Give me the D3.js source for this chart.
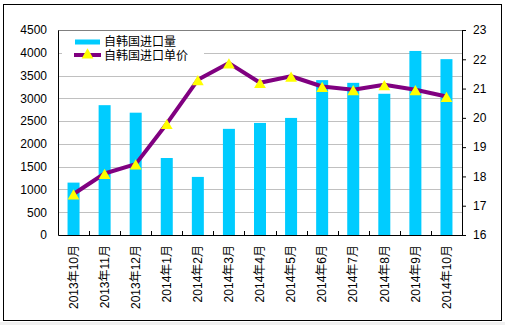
<!DOCTYPE html>
<html>
<head>
<meta charset="utf-8">
<script src="https://cdn.jsdelivr.net/npm/d3@7"></script>
<style>
  html, body { margin:0; padding:0; background:#fff; }
  svg { display:block; }
  text { font-family: "Liberation Sans", "Noto Sans CJK SC", sans-serif; }
</style>
</head>
<body>
<div id="chart"></div>
<script>
// months, import volume (bars, left axis), unit price (line, right axis)
const months = ['2013年10月','2013年11月','2013年12月','2014年1月','2014年2月','2014年3月',
  '2014年4月','2014年5月','2014年6月','2014年7月','2014年8月','2014年9月','2014年10月'];
const volume = [1150, 2850, 2685, 1690, 1275, 2330, 2460, 2570, 3400, 3340, 3100, 4040, 3860];
const price = [17.4, 18.1, 18.42, 19.8, 21.3, 21.87, 21.2, 21.42, 21.07, 20.96, 21.13, 20.96, 20.73];
const leftTicks = d3.range(0, 4501, 500);
const rightTicks = d3.range(16, 24, 1);
const seriesNames = ['自韩国进口量', '自韩国进口单价'];

(function(){
  const width = 505, height = 325;
  const margin = {top:30, right:43, bottom:90, left:58};
  const innerW = 462 - margin.left;
  const innerH = 235 - margin.top;

  const svg = d3.select('#chart').append('svg')
    .attr('width', width)
    .attr('height', height);

  // outer frame
  svg.append('rect')
    .attr('x', 0).attr('y', 322).attr('width', width).attr('height', 3)
    .attr('fill', '#f0f0f0');
  svg.append('rect')
    .attr('x', 3.5).attr('y', 4.5).attr('width', 498).attr('height', 316)
    .attr('fill', '#fff').attr('stroke', '#000');

  const g = svg.append('g')
    .attr('transform', `translate(${margin.left},${margin.top})`);

  const x = d3.scaleBand().domain(months).range([0, innerW]);
  const yL = d3.scaleLinear().domain([0, 4500]).range([innerH, 0]);
  const yR = d3.scaleLinear().domain([16, 23]).range([innerH, 0]);

  // gridlines
  g.append('g').selectAll('line').data(leftTicks.filter(d => d > 0))
    .join('line')
    .attr('x1', 0).attr('x2', innerW)
    .attr('y1', d => Math.round(yL(d)) + 0.5).attr('y2', d => Math.round(yL(d)) + 0.5)
    .attr('stroke', d => d === 4500 ? '#808080' : '#c0c0c0');

  // bars
  const bw = 12;
  g.append('g').selectAll('rect').data(volume)
    .join('rect')
    .attr('x', (d,i) => x(months[i]) + x.bandwidth()/2 - bw/2)
    .attr('y', d => yL(d))
    .attr('width', bw)
    .attr('height', d => innerH - yL(d))
    .attr('fill', '#00ccff');

  // axes
  const fmt = d3.format('d');
  const axL = g.append('g')
    .call(d3.axisLeft(yL).tickValues(leftTicks).tickFormat(fmt).tickSize(0).tickPadding(11));
  const axR = g.append('g').attr('transform', `translate(${innerW},0)`)
    .call(d3.axisRight(yR).tickValues(rightTicks).tickFormat(fmt).tickSize(4).tickPadding(7));
  const axB = g.append('g').attr('transform', `translate(0,${innerH})`)
    .call(d3.axisBottom(x).tickSize(0).tickPadding(10));
  [axL, axR, axB].forEach(a => {
    a.select('.domain').attr('stroke', '#000');
    a.selectAll('text').attr('font-size', '12px').attr('fill', '#000')
      .style('font-family', '"Liberation Sans", "Noto Sans CJK SC", sans-serif');
    a.selectAll('line').attr('stroke', '#000');
  });
  axB.selectAll('text')
    .attr('transform', 'rotate(-90)')
    .attr('text-anchor', 'end')
    .attr('dy', '0.35em')
    .attr('x', -10).attr('y', 0);

  // category boundary ticks on x axis (pointing up)
  g.append('g').selectAll('line').data(months.slice(1))
    .join('line')
    .attr('x1', d => Math.round(x(d)) + 0.5).attr('x2', d => Math.round(x(d)) + 0.5)
    .attr('y1', innerH).attr('y2', innerH - 4)
    .attr('stroke', '#000');

  // price line
  const line = d3.line()
    .x((d,i) => x(months[i]) + x.bandwidth()/2)
    .y(d => yR(d));
  g.append('path').datum(price)
    .attr('d', line)
    .attr('fill', 'none')
    .attr('stroke', '#800080')
    .attr('stroke-width', 4)
    .attr('stroke-linejoin', 'round');

  const tri = d3.symbol().type(d3.symbolTriangle).size(60);
  g.append('g').selectAll('path').data(price)
    .join('path')
    .attr('d', tri)
    .attr('transform', (d,i) => `translate(${x(months[i]) + x.bandwidth()/2},${yR(d) + 2})`)
    .attr('fill', '#ffff00');

  // legend
  const legend = g.append('g').attr('transform', 'translate(4,4)');
  legend.append('rect')
    .attr('x', 0).attr('y', 0).attr('width', 142).attr('height', 30)
    .attr('fill', '#fff');
  legend.append('rect')
    .attr('x', 13).attr('y', 5.5).attr('width', 25).attr('height', 5)
    .attr('fill', '#00ccff');
  legend.append('line')
    .attr('x1', 12).attr('x2', 39).attr('y1', 21).attr('y2', 21)
    .attr('stroke', '#800080').attr('stroke-width', 4);
  legend.append('path')
    .attr('d', tri)
    .attr('transform', 'translate(25.5,21)')
    .attr('fill', '#ffff00');
  seriesNames.forEach((s, i) => {
    legend.append('text')
      .attr('x', 42).attr('y', 8 + i*14)
      .attr('dy', '0.35em')
      .attr('font-size', '12px')
      .text(s);
  });
})();
</script>
</body>
</html>
